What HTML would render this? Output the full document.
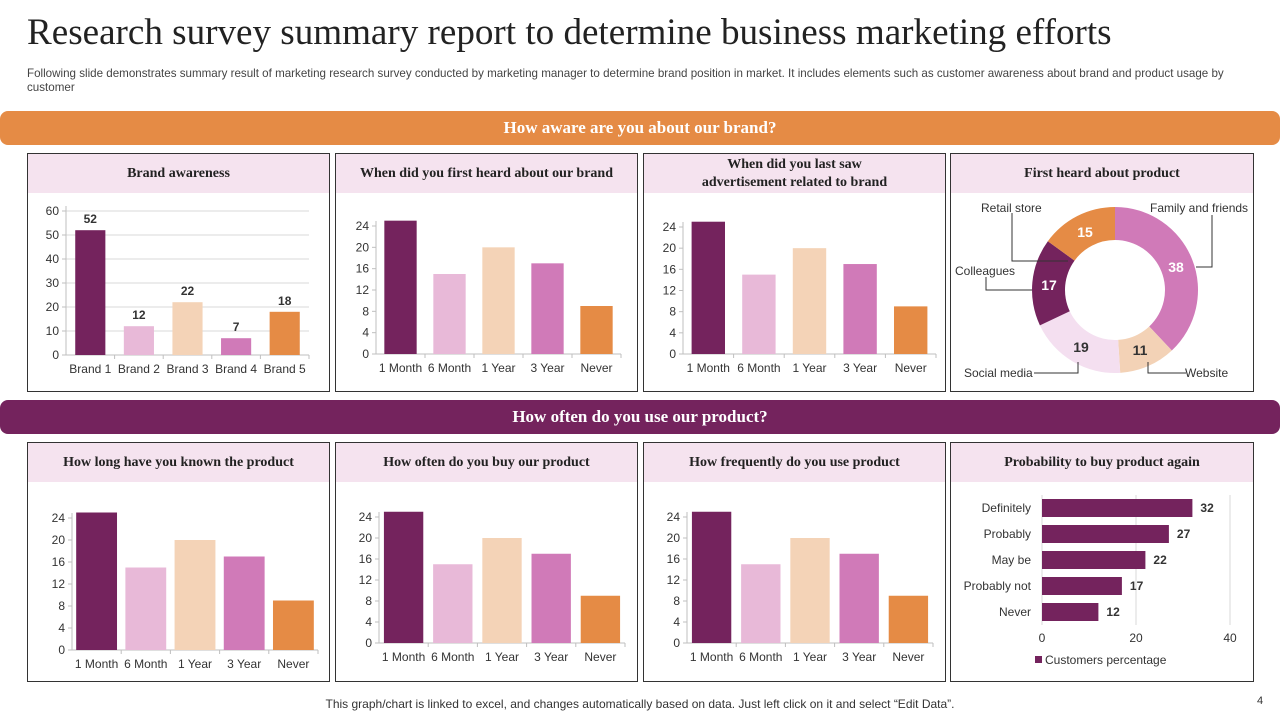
<!DOCTYPE html>
<html><head><meta charset="utf-8">
<style>
body{margin:0;width:1280px;height:720px;background:#fff;position:relative;overflow:hidden;font-family:"Liberation Sans",sans-serif}
.abs{position:absolute}
.title{left:27px;top:11px;font-family:"Liberation Serif",serif;font-size:37.1px;color:#222;white-space:nowrap}
.sub{left:27px;top:67px;width:1222px;font-size:11.6px;line-height:14px;color:#444}
.banner{left:0;width:1280px;height:34px;border-radius:8px;color:#fff;font-family:"Liberation Serif",serif;font-weight:bold;font-size:17px;text-align:center;line-height:34px}
.panel{border:1px solid #333;box-sizing:border-box;background:#fff}
.ph{position:absolute;left:0;right:0;top:0;height:39px;background:#f5e3ef;font-family:"Liberation Serif",serif;font-weight:bold;font-size:14px;color:#222;display:flex;align-items:center;justify-content:center;text-align:center;line-height:18px}
svg text{font-family:"Liberation Sans",sans-serif}
</style></head><body>
<div class="abs title">Research survey summary report to determine business marketing efforts</div>
<div class="abs sub">Following slide demonstrates summary result of marketing research survey conducted by marketing manager to determine brand position in market. It includes elements such as customer awareness about brand and product usage by customer</div>
<div class="abs banner" style="top:111px;background:#e58b45">How aware are you about our brand?</div>
<div class="abs banner" style="top:400px;background:#74235d">How often do you use our product?</div>

<div class="abs panel" style="left:27px;top:153px;width:303px;height:239px"><div class="ph">Brand awareness</div></div>
<div class="abs panel" style="left:335px;top:153px;width:303px;height:239px"><div class="ph">When did you first heard about our brand</div></div>
<div class="abs panel" style="left:643px;top:153px;width:303px;height:239px"><div class="ph">When did you last saw<br>advertisement related to brand</div></div>
<div class="abs panel" style="left:950px;top:153px;width:304px;height:239px"><div class="ph">First heard about product</div></div>
<div class="abs panel" style="left:27px;top:442px;width:303px;height:240px"><div class="ph">How long have you known the product</div></div>
<div class="abs panel" style="left:335px;top:442px;width:303px;height:240px"><div class="ph">How often do you buy our product</div></div>
<div class="abs panel" style="left:643px;top:442px;width:303px;height:240px"><div class="ph">How frequently do you use product</div></div>
<div class="abs panel" style="left:950px;top:442px;width:304px;height:240px"><div class="ph">Probability to buy product again</div></div>

<svg id="charts" class="abs" style="left:0;top:0" width="1280" height="720"></svg>

<div class="abs" style="left:0;width:1280px;top:697px;text-align:center;font-size:12px;color:#333">This graph/chart is linked to excel, and changes automatically based on data. Just left click on it and select “Edit Data”.</div>
<div class="abs" style="left:1257px;top:695px;font-size:11px;color:#333">4</div>

<script>
const colors = ["#74235d","#e8b9d8","#f4d3b7","#d07ab8","#e58b45"];
const brandCats = ["Brand 1","Brand 2","Brand 3","Brand 4","Brand 5"];
const brandVals = [52,12,22,7,18];
const brandTicks = [0,10,20,30,40,50,60];
const timeCats = ["1 Month","6 Month","1 Year","3 Year","Never"];
const firstHeardVals = [25,15,20,17,9];
const lastSawVals = [25,15,20,17,9];
const knownVals = [25,15,20,17,9];
const buyVals = [25,15,20,17,9];
const useVals = [25,15,20,17,9];
const timeTicks = [0,4,8,12,16,20,24];
const donutCats = ["Family and friends","Website","Social media","Colleagues","Retail store"];
const donutVals = [38,11,19,17,15];
const donutColors = ["#d07ab8","#f3d2b6","#f4dff0","#74235d","#e58b45"];
const againCats = ["Definitely","Probably","May be","Probably not","Never"];
const againVals = [32,27,22,17,12];
const againTicks = [0,20,40];

const svg = document.getElementById('charts');
const NS = "http://www.w3.org/2000/svg";
function mk(tag, attrs, parent){const e=document.createElementNS(NS,tag);for(const k in attrs)e.setAttribute(k,attrs[k]);(parent||svg).appendChild(e);return e;}
function txt(x,y,s,attrs){const t=mk('text',Object.assign({x:x,y:y,'font-size':12,fill:'#333'},attrs||{}));t.textContent=s;return t;}

function columnChart(name, cats, vals, ticks, o){
  const g=mk('g',{});
  
  
  const max=ticks[ticks.length-1];
  const yS=v=>o.y0-(v/max)*(o.y0-o.yTop);
  const bw=(o.x1-o.x0)/cats.length;
  ticks.forEach(t=>{
    const y=yS(t);
    if(o.grid && t>0) mk('line',{x1:o.x0,x2:o.x1,y1:y,y2:y,stroke:'#d9d9d9'},g);
    mk('line',{x1:o.x0-4,x2:o.x0,y1:y,y2:y,stroke:'#bfbfbf'},g);
    const l=txt(o.x0-7,y+4,String(t),{'text-anchor':'end'});g.appendChild(l);
    
    
  });
  mk('line',{x1:o.x0,x2:o.x0,y1:o.yTop-5,y2:o.y0,stroke:'#bfbfbf'},g);
  mk('line',{x1:o.x0,x2:o.x1,y1:o.y0,y2:o.y0,stroke:'#bfbfbf'},g);
  cats.forEach((c,i)=>{
    const cx=o.x0+bw*(i+0.5);
    const w=bw*o.frac;
    const r=mk('rect',{x:cx-w/2,y:yS(vals[i]),width:w,height:o.y0-yS(vals[i]),fill:colors[i]},g);
    
    
    mk('line',{x1:o.x0+bw*(i+1),x2:o.x0+bw*(i+1),y1:o.y0,y2:o.y0+4,stroke:'#bfbfbf'},g);
    const l=txt(cx,o.y0+18,c,{'text-anchor':'middle'});g.appendChild(l);
    
    
    if(o.labels){const v=txt(cx,yS(vals[i])-7,String(vals[i]),{'text-anchor':'middle','font-weight':'bold'});g.appendChild(v);
      
      }
  });
}
columnChart('brand-awareness-chart',brandCats,brandVals,brandTicks,{x0:66,x1:309,y0:355,yTop:211,frac:0.62,grid:true,labels:true});
columnChart('first-heard-brand-chart',timeCats,firstHeardVals,timeTicks,{x0:376,x1:621,y0:354,yTop:226,frac:0.66});
columnChart('last-saw-ad-chart',timeCats,lastSawVals,timeTicks,{x0:683,x1:936,y0:354,yTop:227,frac:0.66});
columnChart('known-product-chart',timeCats,knownVals,timeTicks,{x0:72,x1:318,y0:650,yTop:518,frac:0.83});
columnChart('buy-product-chart',timeCats,buyVals,timeTicks,{x0:379,x1:625,y0:643,yTop:517,frac:0.8});
columnChart('use-product-chart',timeCats,useVals,timeTicks,{x0:687,x1:933,y0:643,yTop:517,frac:0.8});

// donut
(function(){
  const g=mk('g',{});
  
  
  const cx=1115,cy=290,R=83,r=50;
  const total=donutVals.reduce((a,b)=>a+b,0);
  let a0=-Math.PI/2;
  const pt=(a,rr)=>[cx+rr*Math.cos(a),cy+rr*Math.sin(a)];
  const lbl=[[1176,272,'#fff'],[1140,355,'#333'],[1081,352,'#333'],[1049,290,'#fff'],[1085,237,'#fff']];
  donutVals.forEach((v,i)=>{
    const a1=a0+v/total*2*Math.PI;
    const [x1,y1]=pt(a0,R),[x2,y2]=pt(a1,R),[x3,y3]=pt(a1,r),[x4,y4]=pt(a0,r);
    const lg=(a1-a0)>Math.PI?1:0;
    const p=mk('path',{d:`M${x1},${y1}A${R},${R} 0 ${lg} 1 ${x2},${y2}L${x3},${y3}A${r},${r} 0 ${lg} 0 ${x4},${y4}Z`,fill:donutColors[i]},g);
    
    
    a0=a1;
  });
  const leaders=[["M1196,267 L1212,267 L1212,215",1150,212],["M1148,362 L1148,373 L1186,373",1185,377],["M1078,362 L1078,373 L1034,373",964,377],["M1032,290 L986,290 L986,277",955,275],["M1068,261 L1012,261 L1012,213",981,212]];
  leaders.forEach((l,i)=>{
    mk('path',{d:l[0],fill:'none',stroke:'#333','stroke-width':1},g);
    const t=txt(l[1],l[2],donutCats[i],{});g.appendChild(t);
    
    
  });
  donutVals.forEach((v,i)=>{
    const t=txt(lbl[i][0],lbl[i][1],String(v),{'text-anchor':'middle','font-weight':'bold','font-size':14,fill:lbl[i][2]});g.appendChild(t);
    
    
  });
})();

// horizontal bar
(function(){
  const g=mk('g',{});
  
  
  const x0=1042,x1=1230,yTop=495,step=26,bh=18,max=againTicks[againTicks.length-1];
  const xS=v=>x0+v/max*(x1-x0);
  againTicks.forEach(t=>{
    mk('line',{x1:xS(t),x2:xS(t),y1:yTop,y2:yTop+step*againCats.length,stroke:'#d9d9d9'},g);
    const l=txt(xS(t),642,String(t),{'text-anchor':'middle'});g.appendChild(l);
    
    
  });
  againCats.forEach((c,i)=>{
    const cy=yTop+step*i+step/2;
    const r=mk('rect',{x:x0,y:cy-bh/2,width:xS(againVals[i])-x0,height:bh,fill:'#74235d'},g);
    
    
    const l=txt(1031,cy+4,c,{'text-anchor':'end'});g.appendChild(l);
    
    
    const v=txt(xS(againVals[i])+8,cy+4,String(againVals[i]),{'font-weight':'bold'});g.appendChild(v);
    
    
  });
  const lr=mk('rect',{x:1035,y:656,width:7,height:7,fill:'#74235d'},g);
  
  
  const lt=txt(1045,664,'Customers percentage',{});g.appendChild(lt);
  
  
})();
</script>
</body></html>
